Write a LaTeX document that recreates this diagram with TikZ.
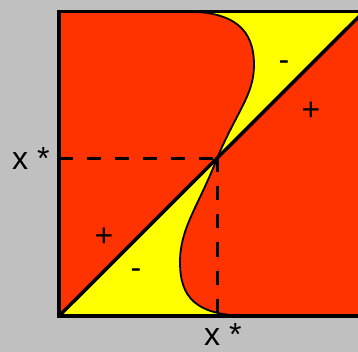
\documentclass[tikz,border=0pt]{standalone}
\usepackage{fontspec}
\setmainfont{Liberation Sans}
\definecolor{hotred}{HTML}{FF3300}
\definecolor{signyellow}{HTML}{FFFF00}
\definecolor{panelgray}{HTML}{C0C0C0}

\begin{document}
\begin{tikzpicture}[
		x=1pt, y=-1pt,
		axislabel/.style={font=\fontsize{32}{36}\selectfont, inner sep=0pt, anchor=base west},
		signlabel/.style={font=\fontsize{32}{36}\selectfont, inner sep=0pt, anchor=base},
		frame/.style={line width=3.5pt},
		guide/.style={line width=3pt, dash pattern=on 14pt off 14pt},
		branch/.style={line width=1.8pt}
	]
		\fill[panelgray] (0,0) rectangle (358,352);
		\useasboundingbox (0,0) rectangle (358,352);
		\coordinate (BL) at (59,316);
		\coordinate (TL) at (59,11.5);
		\coordinate (TR) at (364,11.5);
		\coordinate (BR) at (364,316);
		\coordinate (X) at (217,158.5);
		\def\upperbranch{(X) .. controls (237,111) and (254,95) .. (254,65) .. controls (254,30) and (235,11.5) .. (185,11.5)}
		\def\lowerbranch{(X) .. controls (198,207) and (180,228) .. (180,262) .. controls (180,297) and (195,316) .. (250,316)}
		\begin{scope}
			\clip (0,0) rectangle (358,352);
			% regions
			\fill[hotred] (TL) rectangle (BR);
			\fill[signyellow] (BL) -- \lowerbranch -- cycle;
			\fill[signyellow] \upperbranch -- (TR) -- cycle;
			\draw[branch] \upperbranch;
			\draw[branch] \lowerbranch;
			\draw[frame] (BL) -- (TR);
			% fixed point guides
			\draw[guide] (X -| TL) -- (X);
			\draw[guide] (X) -- (X |- BL);
			\draw[frame] (TL) rectangle (BR);
		\end{scope}
		% labels
		\node[axislabel] (ylab) at (12,170) {x *};
		\node[axislabel] (xlab) at (204,345) {x *};
		\node[signlabel] (plusA) at (104,246.5) {+};
		\node[signlabel] (minusA) at (136,278.5) {-};
		\node[signlabel] (minusB) at (284,70.5) {-};
		\node[signlabel] (plusB) at (311,120.5) {+};
	\end{tikzpicture}
\end{document}
